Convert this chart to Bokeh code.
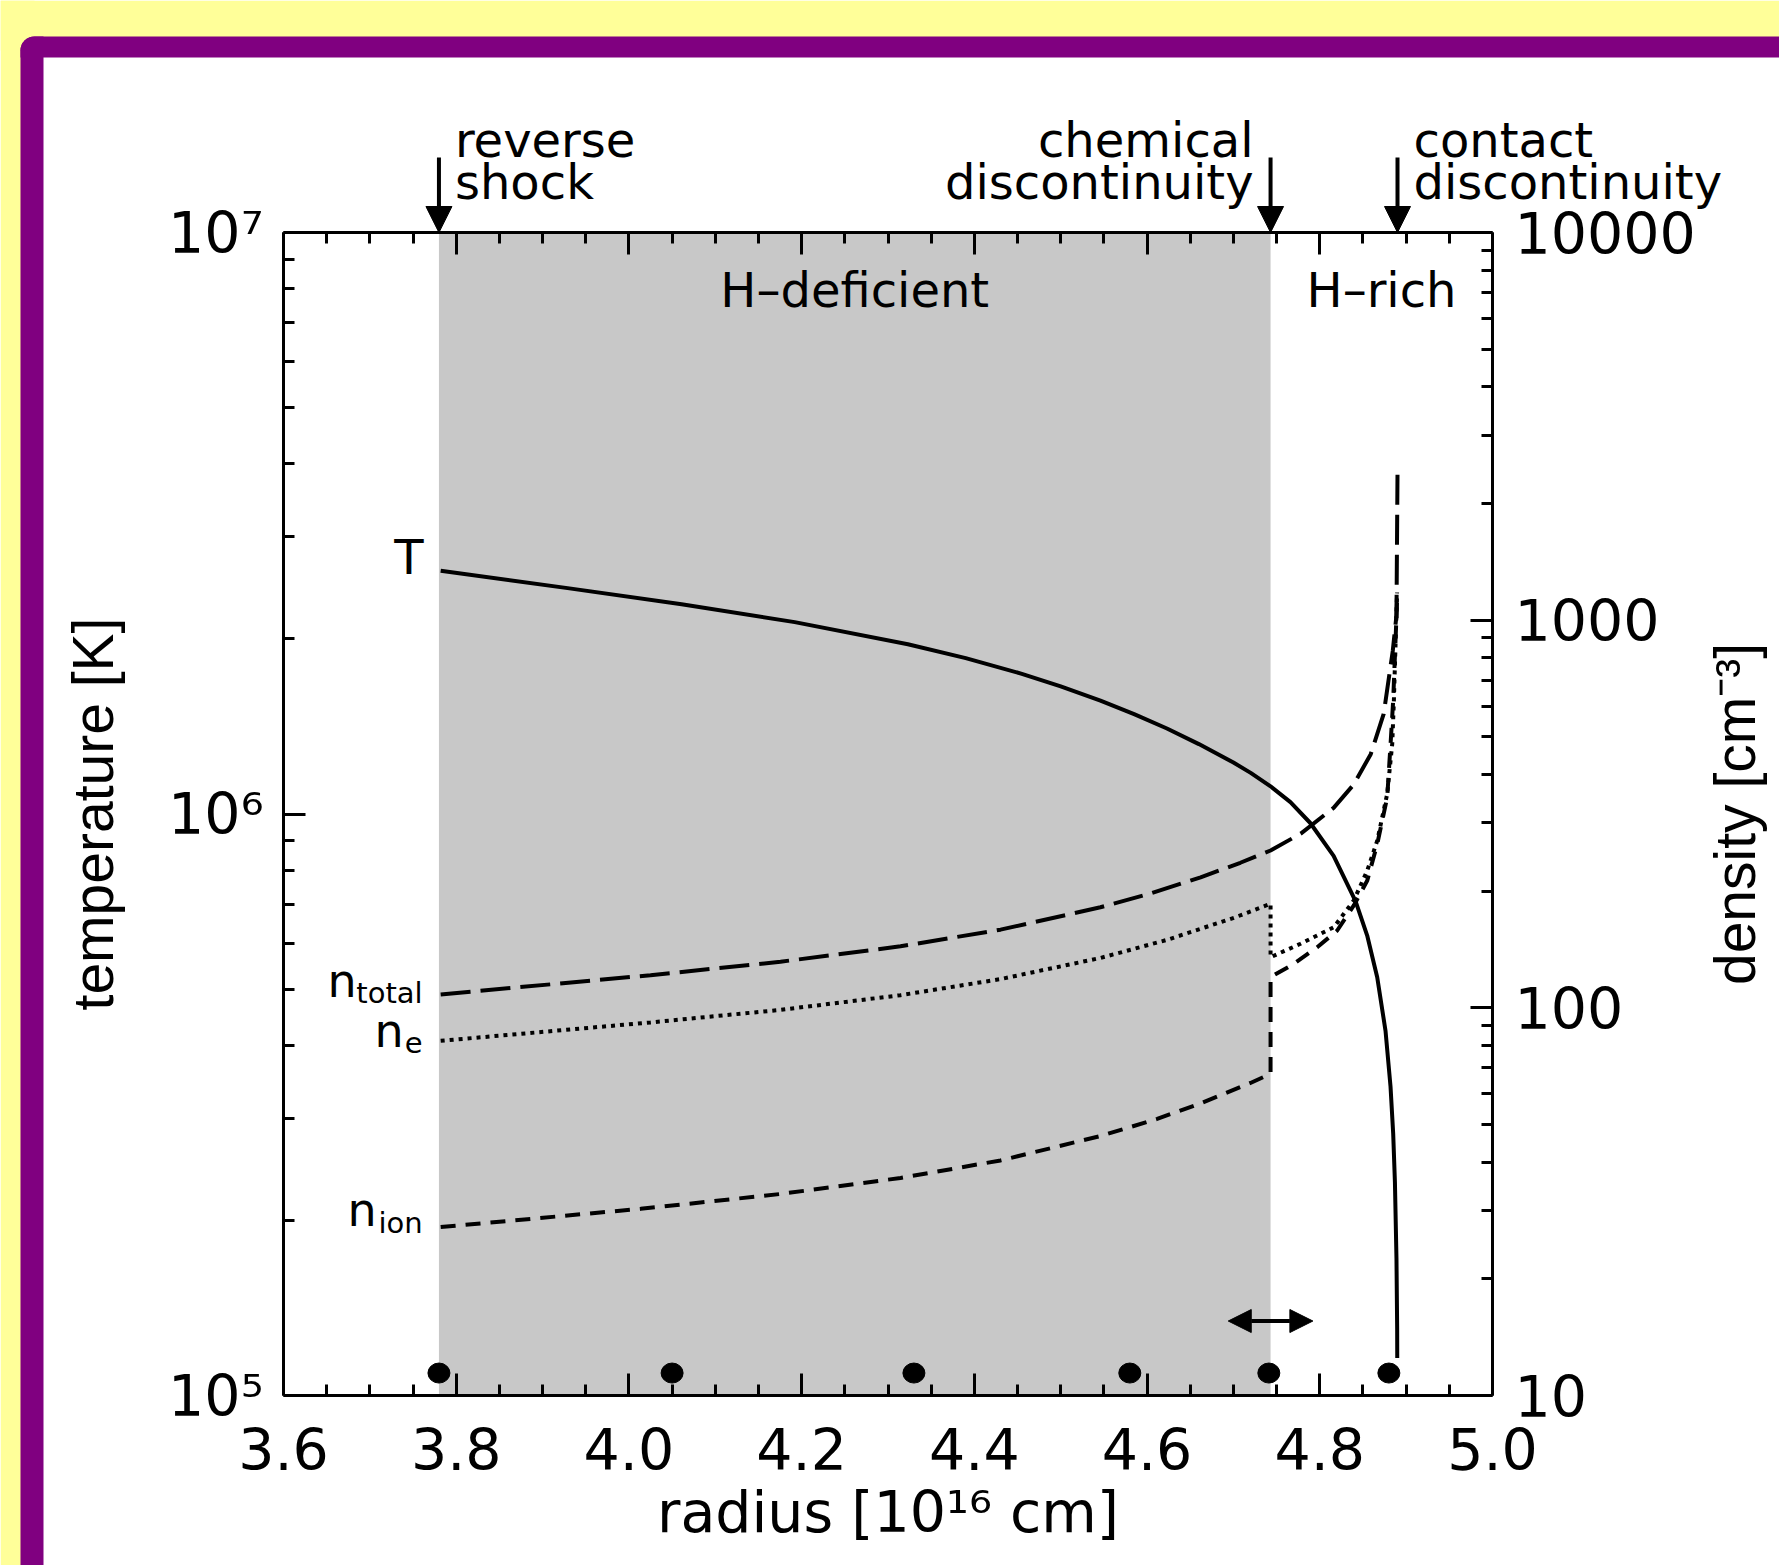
import math
from bokeh.plotting import figure
from bokeh.models import (Range1d, LogScale, LogAxis, LinearAxis, FixedTicker,
                          PrintfTickFormatter, CustomJSTickFormatter, BoxAnnotation,
                          Arrow, NormalHead, Label)
from bokeh.core.properties import value
from bokeh.embed import file_html
from bokeh.resources import INLINE

# ---------------- data ----------------
radius_T = [3.782, 3.929, 4.061, 4.192, 4.323, 4.39, 4.455, 4.50, 4.546, 4.585, 4.623,
            4.66, 4.700, 4.72, 4.743, 4.766, 4.789, 4.816, 4.8414, 4.8549, 4.8665, 4.8761,
            4.8819, 4.885, 4.887, 4.8888, 4.8896, 4.8897]
temperature = [2.62e6, 2.446e6, 2.295e6, 2.138e6, 1.959e6, 1.854e6, 1.742e6, 1.658e6,
               1.567e6, 1.485e6, 1.403e6, 1.319e6, 1.226e6, 1.177e6, 1.116e6, 1.048e6,
               9.65e5, 8.47e5, 7.08e5, 6.18e5, 5.24e5, 4.24e5, 3.40e5, 2.82e5, 2.33e5,
               1.72e5, 1.30e5, 1.16e5]

radius_ntot = [3.782, 4.025, 4.1755, 4.3145, 4.4303, 4.546, 4.604, 4.662, 4.708, 4.743,
               4.778, 4.816, 4.839, 4.859, 4.874, 4.8845, 4.8888, 4.8900]
n_total = [108.3, 121.4, 131.5, 144.1, 159.1, 181.7, 197.3, 217.1, 236.7, 254.6,
           281.5, 328.0, 376.0, 451.0, 573.0, 833.0, 1029.0, 2410.0]

radius_ne = [3.782, 4.025, 4.1755, 4.3145, 4.4303, 4.546, 4.623, 4.7005, 4.743, 4.743,
             4.7777, 4.8163, 4.8394, 4.855, 4.8666, 4.8781, 4.8839, 4.8858, 4.8895]
n_e = [82.2, 91.7, 98.8, 107.8, 118.6, 134.5, 149.7, 170.7, 185.5, 135.1,
       146.3, 161.5, 189.2, 226.1, 270.2, 356.6, 479.9, 620.6, 1179.0]

radius_nion = [3.782, 4.0136, 4.1755, 4.3145, 4.4303, 4.546, 4.6117, 4.6618, 4.7197, 4.743,
               4.743, 4.770, 4.797, 4.8202, 4.8394, 4.855, 4.8666, 4.8781, 4.882, 4.885, 4.8895]
n_ion = [27.2, 30.3, 33.1, 36.4, 40.4, 46.7, 51.7, 56.7, 64.0, 67.6,
         120.0, 129.9, 143.3, 158.3, 183.7, 213.0, 265.0, 349.5, 480.8, 620.6, 1124.0]

marker_radius = [3.78, 4.05, 4.33, 4.58, 4.741, 4.88]
marker_T = [1.093e5] * 6

front_radius = [3.78, 4.743, 4.89]          # reverse shock, chemical disc., contact disc.
front_names = [["reverse", "shock"], ["chemical", "discontinuity"], ["contact", "discontinuity"]]
region_names = ["H\u2013deficient", "H\u2013rich"]
width_arrow = [4.694, 4.792]
width_arrow_T = 1.343e5

x_ticks = [3.6, 3.8, 4.0, 4.2, 4.4, 4.6, 4.8, 5.0]
x_minor = [round(3.6 + 0.05 * i, 2) for i in range(29) if i % 4]
T_ticks = [1e5, 1e6, 1e7]
T_tick_labels = ["10\u2075", "10\u2076", "10\u2077"]
T_minor = [m * 10.0 ** e for e in (5, 6) for m in range(2, 10)]
dens_ticks = [10, 100, 1000, 10000]
dens_tick_labels = ["10", "100", "1000", "10000"]
dens_minor = [m * 10 ** e for e in (1, 2, 3) for m in range(2, 10)]

# ---------------- layout geometry (pixels) ----------------
W, H = 1779, 1565
FL, FR, FT, FB = 283, 1492, 232, 1395       # the plot box
X0, X1 = 3.6, 5.0
T0, T1 = 1e5, 1e7
D0, D1 = 10.0, 1e4


def X(px):
    return X0 + (px - FL) / (FR - FL) * (X1 - X0)


def Yl(py, lo, hi):
    a, b = math.log10(lo), math.log10(hi)
    return 10 ** (b - (py - FT) / (FB - FT) * (b - a))


def Y(py):
    return Yl(py, T0, T1)


def D(py):
    return Yl(py, D0, D1)


FONT = "DejaVu Sans"
VFONT = "Liberation Sans"
p = figure(width=W, height=H, x_range=Range1d(X(0), X(W)), y_range=Range1d(Y(H), Y(0)),
           y_axis_type="log", x_axis_location=None, y_axis_location=None,
           output_backend="svg", toolbar_location=None, title=None,
           min_border=0, min_border_left=0, min_border_right=0,
           min_border_top=0, min_border_bottom=0)
p.extra_y_ranges = {"dens": Range1d(D(H), D(0))}
p.extra_y_scales = {"dens": LogScale()}
p.grid.visible = False
p.outline_line_color = None
p.background_fill_color = "white"
p.border_fill_color = "white"

# ---------------- page decoration ----------------
YELLOW, PURPLE = "#FFFF99", "#800080"
dec = dict(line_color=None, fill_alpha=1.0, level="underlay")
p.add_layout(BoxAnnotation(bottom=Y(50), fill_color=YELLOW, **dec))
p.add_layout(BoxAnnotation(right=X(34), fill_color=YELLOW, **dec))
has_radius = "border_radius" in BoxAnnotation.properties()
bar1 = BoxAnnotation(left=X(20), top=Y(36), bottom=Y(57), fill_color=PURPLE, **dec)
bar2 = BoxAnnotation(left=X(20), right=X(43), top=Y(36), fill_color=PURPLE, **dec)
if has_radius:
    bar1.border_radius = (14, 0, 0, 0)
    bar2.border_radius = (14, 0, 0, 0)
p.add_layout(bar1)
p.add_layout(bar2)

band = BoxAnnotation(left=front_radius[0], right=front_radius[1], top=T1, bottom=T0,
                     fill_color="#C8C8C8", fill_alpha=1.0, line_color=None, level="underlay")
p.add_layout(band)


def style_axis(ax):
    ax.axis_line_width = 3
    ax.axis_line_color = "black"
    ax.major_tick_in = 22
    ax.major_tick_out = 0
    ax.minor_tick_in = 11
    ax.minor_tick_out = 0
    ax.major_tick_line_width = 3
    ax.minor_tick_line_width = 3
    ax.major_label_text_font = FONT
    ax.major_label_text_font_size = "57px"
    ax.major_label_text_color = "black"
    ax.axis_label_text_font_size = "57px"
    ax.axis_label_text_font_style = "normal"
    ax.axis_label_text_color = "black"


xax = LinearAxis(fixed_location=T0, bounds=(X0, X1),
                 ticker=FixedTicker(ticks=x_ticks, minor_ticks=x_minor),
                 formatter=PrintfTickFormatter(format="%.1f"))
style_axis(xax)
xax.major_label_standoff = 32
xax.axis_label = "radius [10\u00b9\u2076 cm]"
xax.axis_label_text_font = FONT
xax.axis_label_standoff = 6
p.add_layout(xax, "below")

top_ax = LinearAxis(fixed_location=T1, bounds=(X0, X1),
                    ticker=FixedTicker(ticks=x_ticks, minor_ticks=x_minor),
                    formatter=CustomJSTickFormatter(code="return ''"))
style_axis(top_ax)
top_ax.major_label_text_font_size = "1px"
p.add_layout(top_ax, "above")

yax = LogAxis(fixed_location=X0, bounds=(T0, T1),
              ticker=FixedTicker(ticks=T_ticks, minor_ticks=T_minor))
yax.major_label_overrides = dict(zip(T_ticks, T_tick_labels))
style_axis(yax)
yax.major_label_standoff = 20
yax.axis_label = "temperature [K]"
yax.axis_label_text_font = VFONT
yax.axis_label_standoff = 40
p.add_layout(yax, "left")

rax = LogAxis(y_range_name="dens", fixed_location=X1, bounds=(D0, D1),
              ticker=FixedTicker(ticks=dens_ticks, minor_ticks=dens_minor),
              formatter=PrintfTickFormatter(format="%d"))
rax.major_label_overrides = dict(zip(dens_ticks, dens_tick_labels))
style_axis(rax)
rax.major_label_standoff = 22
p.add_layout(rax, "right")

# right axis title, reading upwards like the left one
p.add_layout(Label(x=X(1734), y=D((FT + FB) / 2), y_range_name="dens",
                   text="density [cm\u207b\u00b3]", angle=math.pi / 2,
                   text_align="center", text_baseline="middle", text_font=VFONT,
                   text_font_size="57px", text_color="black"))

# ---------------- curves ----------------
p.line(radius_T, temperature, line_width=4, line_color="black")
p.line(radius_ntot, n_total, y_range_name="dens", line_width=4, line_color="black",
       line_dash="30 10")
p.line(radius_ne, n_e, y_range_name="dens", line_width=4, line_color="black",
       line_dash="4 5")
p.line(radius_nion, n_ion, y_range_name="dens", line_width=4, line_color="black",
       line_dash="15 10")

p.ellipse(x=marker_radius, y=marker_T, width=22, height=20, width_units="screen",
          height_units="screen", fill_color="black", line_color="black")

# ---------------- curve labels ----------------
tkw = dict(text_font=value(FONT), text_color="black", text_align="right",
           text_baseline="alphabetic")
p.text(x=[radius_T[0]], y=[temperature[0]], text=["T"], text_font_size="48px",
       x_offset=-17, y_offset=-14, **tkw)
main_x = [radius_ntot[0], radius_ne[0], radius_nion[0]]
main_y = [n_total[0], n_e[0], n_ion[0]]
p.text(x=main_x, y=main_y, text=["n", "n", "n"], text_font_size="46px",
       x_offset=[-84, -37, -64], y_offset=[-13, -10, -17], y_range_name="dens", **tkw)
p.text(x=main_x, y=main_y, text=["total", "e", "ion"], text_font_size="29px",
       x_offset=[-18, -18, -18], y_offset=[-1, 2, -4], y_range_name="dens", **tkw)

# region names
region_x = [(front_radius[0] + front_radius[1]) / 2, (front_radius[1] + X1) / 2]
p.text(x=region_x, y=[Y(305)] * 2, text=region_names, text_font=value(FONT),
       text_font_size="48px", text_align="center", text_baseline="alphabetic",
       text_color="black", y_offset=-16)

# ---------------- front arrows & labels ----------------
for r in front_radius:
    p.add_layout(Arrow(x_start=r, y_start=Y(157), x_end=r, y_end=T1, line_width=4,
                       line_color="black",
                       end=NormalHead(size=26, fill_color="black", line_color="black",
                                      line_width=1)))

aligns = ["left", "right", "left"]
offs = [16, -17, 16]
for r, names, al, off in zip(front_radius, front_names, aligns, offs):
    for txt, yy in zip(names, [Y(139), Y(181)]):
        p.add_layout(Label(x=r, y=yy, text=txt, x_offset=off, text_align=al,
                           text_baseline="alphabetic", text_font=FONT,
                           text_font_size="48px", text_color="black"))

p.add_layout(Arrow(x_start=width_arrow[0], x_end=width_arrow[1], y_start=width_arrow_T,
                   y_end=width_arrow_T, line_width=4, line_color="black",
                   start=NormalHead(size=23, fill_color="black", line_color="black", line_width=1),
                   end=NormalHead(size=23, fill_color="black", line_color="black", line_width=1)))

open("out.html", "w").write(file_html(p, INLINE))
